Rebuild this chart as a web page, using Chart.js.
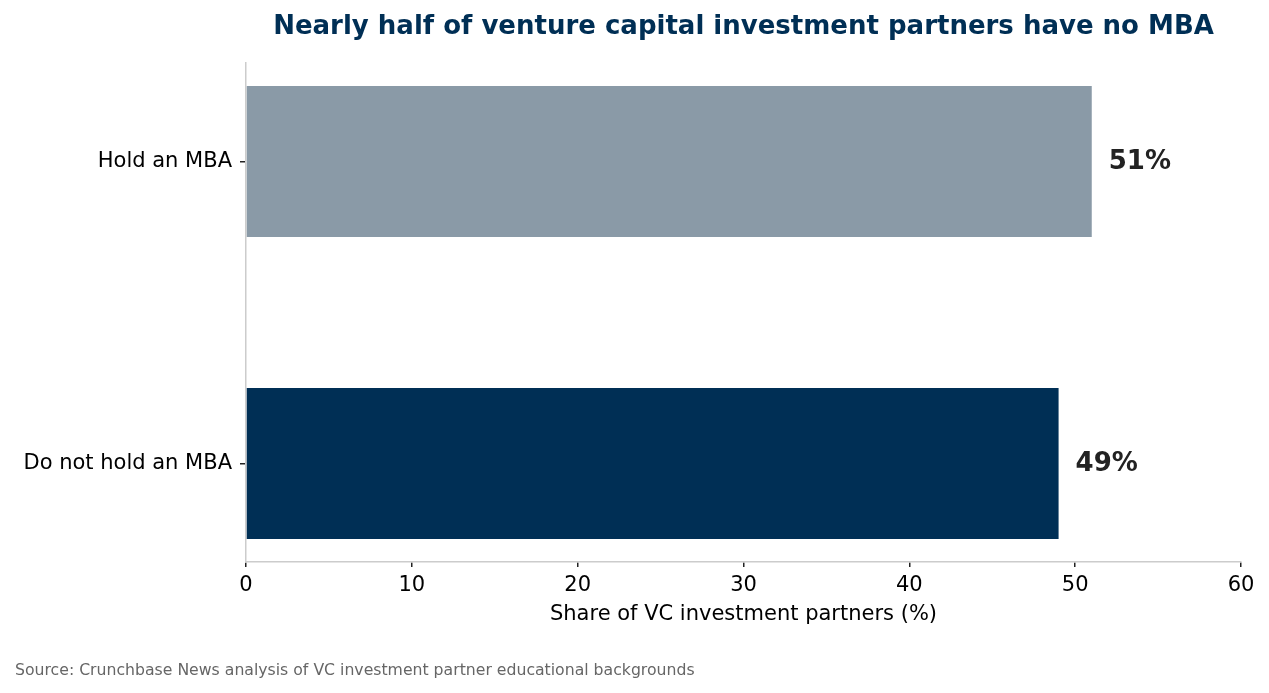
<!DOCTYPE html>
<html>
<head>
<meta charset="utf-8">
<script src="https://cdn.jsdelivr.net/npm/chart.js@4"></script>
<style>
  html, body { margin: 0; padding: 0; background: #fff; }
  #wrap { width: 1269px; height: 693px; }
</style>
</head>
<body>
<div id="wrap"><canvas id="chart" width="1269" height="693"></canvas></div>
<script>
const categories = ['Hold an MBA', 'Do not hold an MBA'];
const shareValues = [51, 49];
const barColors = ['#8a9aa7', '#002f55'];
const xTicks = [0, 10, 20, 30, 40, 50, 60];

const titleText = 'Nearly half of venture capital investment partners have no MBA';
const sourceText = 'Source: Crunchbase News analysis of VC investment partner educational backgrounds';
const FONT = '"DejaVu Sans", sans-serif';

const extras = {
    id: 'extras',
    afterDatasetsDraw(chart) {
        const ctx = chart.ctx;
        const area = chart.chartArea;
        const meta = chart.getDatasetMeta(0);
        ctx.save();
        ctx.font = 'bold 26px ' + FONT;
        ctx.fillStyle = '#222222';
        ctx.textAlign = 'left';
        ctx.textBaseline = 'middle';
        meta.data.forEach((bar, i) => {
            ctx.fillText(shareValues[i] + '%', bar.x + 17, bar.y + 1);
        });

        ctx.font = 'bold 26px ' + FONT;
        ctx.fillStyle = '#002f55';
        ctx.textAlign = 'center';
        ctx.fillText(titleText, (area.left + area.right) / 2, 27);

        ctx.font = '15.7px ' + FONT;
        ctx.fillStyle = '#666666';
        ctx.textAlign = 'left';
        ctx.fillText(sourceText, 15, 671);
        ctx.restore();
    }
};

new Chart(document.getElementById('chart'), {
    type: 'bar',
    data: {
        datasets: [{
            data: shareValues.map((v, i) => ({ x: v, y: i })),
            backgroundColor: barColors,
            borderWidth: 0,
            categoryPercentage: 1,
            barPercentage: 0.5
        }]
    },
    options: {
        indexAxis: 'y',
        responsive: false,
        animation: false,
        layout: { padding: { top: 63, right: 28, bottom: 63, left: 0 } },
        plugins: { legend: { display: false }, tooltip: { enabled: false } },
        scales: {
            x: {
                type: 'linear',
                min: 0,
                max: 60,
                afterBuildTicks: (scale) => { scale.ticks = xTicks.map(v => ({ value: v })); },
                afterFit: (scale) => { scale.height = 68; },
                grid: { drawOnChartArea: false, tickLength: 5, tickColor: '#222', lineWidth: 1.5 },
                border: { color: '#cccccc', width: 1.5 },
                ticks: { color: '#000', padding: 6, font: { family: FONT, size: 21 } },
                title: {
                    display: true,
                    text: 'Share of VC investment partners (%)',
                    color: '#000',
                    font: { family: FONT, size: 21 },
                    padding: { top: 3, bottom: 3 }
                }
            },
            y: {
                type: 'linear',
                reverse: true,
                offset: false,
                min: -0.326,
                max: 1.326,
                afterBuildTicks: (scale) => { scale.ticks = categories.map((c, i) => ({ value: i })); },
                afterFit: (scale) => { scale.width = 246; },
                grid: { offset: false, drawOnChartArea: false, tickLength: 6, tickColor: '#222', lineWidth: 1.5 },
                border: { color: '#cccccc', width: 1.5 },
                ticks: {
                    color: '#000',
                    padding: 8,
                    font: { family: FONT, size: 21 },
                    callback: (v) => categories[v]
                }
            }
        }
    },
    plugins: [extras]
});
</script>
</body>
</html>
